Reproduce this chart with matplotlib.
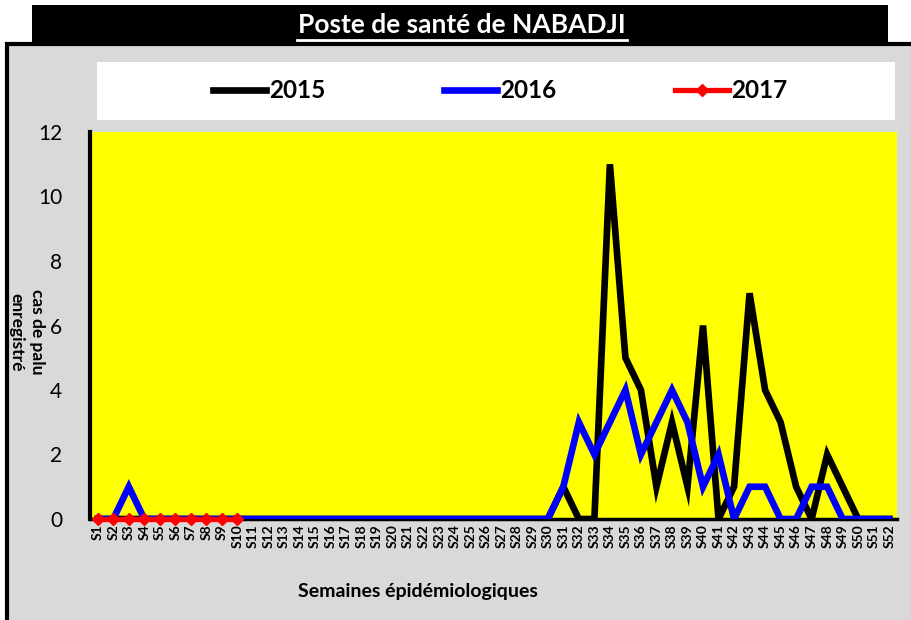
import matplotlib
matplotlib.use("Agg")
import matplotlib.pyplot as plt
from matplotlib.patches import Rectangle
from matplotlib.lines import Line2D

plt.rcParams['font.family'] = ['Lato', 'DejaVu Sans']

# Weekly malaria cases, Nabadji health post
weeks = [f"S{i}" for i in range(1, 53)]
cases_2015 = [0] * 30 + [1, 0, 0, 11, 5, 4, 1, 3, 1, 6, 0, 1, 7, 4, 3, 1, 0, 2, 1, 0, 0, 0]
cases_2016 = [0, 0, 1] + [0] * 27 + [1, 3, 2, 3, 4, 2, 3, 4, 3, 1, 2, 0, 1, 1, 0, 0, 1, 1, 0, 0, 0, 0]
cases_2017 = [0] * 10
series_labels = ["2015", "2016", "2017"]

W, H = 911, 620
fig = plt.figure(figsize=(W / 100, H / 100), dpi=100, facecolor="white")


def fx(x):
    return x / W


def fy(y):
    return 1 - y / H


# panel background with border
fig.add_artist(Rectangle((fx(7), fy(H + 10)), fx(W + 20) - fx(7), fy(44) - fy(H + 10),
                         transform=fig.transFigure, facecolor="#d9d9d9",
                         edgecolor="black", linewidth=3, zorder=0))
# title banner
fig.add_artist(Rectangle((fx(32), fy(44)), fx(888) - fx(32), fy(5) - fy(44),
                         transform=fig.transFigure, facecolor="black",
                         edgecolor="none", zorder=1))
fig.text(fx(462), fy(25), "Poste de santé de NABADJI", color="white",
         fontsize=19, fontweight="bold", ha="center", va="center", zorder=2)
fig.add_artist(Line2D([fx(297), fx(627)], [fy(40), fy(40)], transform=fig.transFigure,
                      color="white", linewidth=2, zorder=2))

# legend box
fig.add_artist(Rectangle((fx(97), fy(120)), fx(895) - fx(97), fy(62) - fy(120),
                         transform=fig.transFigure, facecolor="white",
                         edgecolor="none", zorder=1))

ax = fig.add_axes([fx(90), fy(519), fx(897) - fx(90), fy(132) - fy(519)])
ax.set_facecolor("#ffff00")
ax.set_zorder(3)

x = list(range(len(weeks)))
l1, = ax.plot(x, cases_2015, color="black", linewidth=4.8, solid_joinstyle="miter",
              label=series_labels[0], zorder=3)
l2, = ax.plot(x, cases_2016, color="#0000ff", linewidth=4.8, solid_joinstyle="miter",
              label=series_labels[1], zorder=4)
l3, = ax.plot(x[:len(cases_2017)], cases_2017, color="#ff0000", linewidth=3.8,
              marker="D", markersize=6, label=series_labels[2], zorder=5, clip_on=False)

ax.set_xlim(-0.5, len(weeks) - 0.5)
ax.set_ylim(0, 12)
ax.set_yticks(range(0, 13, 2))
ax.set_xticks(x)
ax.set_xticklabels(weeks, rotation=90, fontsize=10, fontweight="bold")
ax.tick_params(axis="y", length=0, pad=20, labelsize=15)
ax.tick_params(axis="x", length=0, pad=4)
for s in ["top", "right"]:
    ax.spines[s].set_visible(False)
ax.spines["left"].set_linewidth(3)
ax.spines["bottom"].set_linewidth(2.5)

fig.text(fx(418), fy(592), "Semaines épidémiologiques", fontsize=14,
         fontweight="bold", ha="center", va="center")
fig.text(fx(27), fy(332), "cas de palu\nenregistré", fontsize=12.5, fontweight="bold",
         rotation=270, ha="center", va="center", linespacing=1.35)

leg = fig.legend(handles=[l1, l2, l3], loc="center", bbox_to_anchor=(fx(500), fy(91)),
                 ncol=3, frameon=False, handlelength=2.2, handletextpad=0.1,
                 columnspacing=4.9, prop={"weight": "bold", "size": 17.5})
leg.set_zorder(4)

fig.savefig("out.png", dpi=100, facecolor="white")
